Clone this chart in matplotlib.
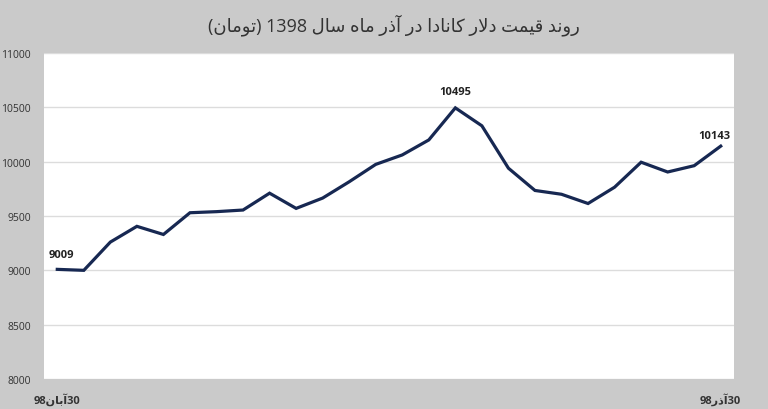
import re
import matplotlib
matplotlib.use("Agg")
import matplotlib.pyplot as plt

# ---------------- data ----------------
title_text = "روند قیمت دلار کانادا در آذر ماه سال 1398 (تومان)"
prices = [9009, 9000, 9260, 9405, 9330, 9530, 9540, 9555, 9710, 9570,
          9665, 9815, 9975, 10062, 10200, 10495, 10330, 9940, 9735, 9700,
          9615, 9765, 9995, 9905, 9963, 10143]
first_label = "30آبان98"
last_label = "30آذر98"
y_ticks = [8000, 8500, 9000, 9500, 10000, 10500, 11000]
annotated_idx = [0, 15, 25]

# ---------------- simple Arabic/Persian shaping for matplotlib ----------------
FORMS = {  # isolated, final, initial, medial
    'ا': ('\uFE8D', '\uFE8E', None, None),
    'آ': ('\uFE81', '\uFE82', None, None),
    'ب': ('\uFE8F', '\uFE90', '\uFE91', '\uFE92'),
    'ت': ('\uFE95', '\uFE96', '\uFE97', '\uFE98'),
    'د': ('\uFEA9', '\uFEAA', None, None),
    'ذ': ('\uFEAB', '\uFEAC', None, None),
    'ر': ('\uFEAD', '\uFEAE', None, None),
    'س': ('\uFEB1', '\uFEB2', '\uFEB3', '\uFEB4'),
    'ق': ('\uFED5', '\uFED6', '\uFED7', '\uFED8'),
    'ل': ('\uFEDD', '\uFEDE', '\uFEDF', '\uFEE0'),
    'م': ('\uFEE1', '\uFEE2', '\uFEE3', '\uFEE4'),
    'ن': ('\uFEE5', '\uFEE6', '\uFEE7', '\uFEE8'),
    'ه': ('\uFEE9', '\uFEEA', '\uFEEB', '\uFEEC'),
    'و': ('\uFEED', '\uFEEE', None, None),
    'ک': ('\uFB8E', '\uFB8F', '\uFB90', '\uFB91'),
    'ی': ('\uFBFC', '\uFBFD', '\uFBFE', '\uFBFF'),
}
LAM_ALEF = {'ا': ('\uFEFB', '\uFEFC'), 'آ': ('\uFEF5', '\uFEF6')}


def dual(c):
    return c in FORMS and FORMS[c][2] is not None


def shape(word):
    out = []
    i = 0
    n = len(word)
    while i < n:
        c = word[i]
        if c not in FORMS:
            out.append(c)
            i += 1
            continue
        prev_j = i > 0 and dual(word[i - 1])
        if c == 'ل' and i + 1 < n and word[i + 1] in LAM_ALEF:
            out.append(LAM_ALEF[word[i + 1]][1 if prev_j else 0])
            i += 2
            continue
        next_j = dual(c) and i + 1 < n and word[i + 1] in FORMS
        iso, fin, ini, med = FORMS[c]
        if prev_j and next_j:
            out.append(med)
        elif prev_j:
            out.append(fin)
        elif next_j:
            out.append(ini)
        else:
            out.append(iso)
        i += 1
    return ''.join(out)


def mirror(s):
    return s.translate(str.maketrans('()', ')('))


def rtl(text):
    words = []
    for tok in text.split(' ')[::-1]:
        runs = re.findall(r'[0-9]+|[^0-9]+', tok)
        vis = ''
        for r in runs[::-1]:
            vis += r if r.isdigit() else mirror(shape(r)[::-1])
        words.append(vis)
    return ' '.join(words)


# ---------------- plot ----------------
plt.rcParams['font.family'] = ['Open Sans', 'DejaVu Sans']
BG = '#cacaca'
LINE = '#172852'
TXT = '#333333'

fig = plt.figure(figsize=(7.68, 4.10), dpi=100, facecolor=BG)
ax = fig.add_axes([44 / 768, 1 - 380 / 410, 690 / 768, 326 / 410])
ax.set_facecolor('white')

x = list(range(len(prices)))
ax.plot(x, prices, color=LINE, lw=2.3, solid_joinstyle='miter', zorder=3)

ax.set_xlim(-0.5, len(prices) - 0.5)
ax.set_ylim(8000, 11000)
ax.set_yticks(y_ticks)
ax.set_yticklabels([str(v) for v in y_ticks], fontsize=7.5, color=TXT)
ax.grid(axis='y', color='#dcdcdc', lw=1)
ax.set_axisbelow(True)
for s in ax.spines.values():
    s.set_visible(False)
ax.tick_params(axis='y', length=0, pad=9.5)
for lab in ax.get_yticklabels():
    lab.set_horizontalalignment('right')
    lab.set_verticalalignment('center_baseline')

ax.set_xticks([0, len(prices) - 1])
ax.set_xticklabels([rtl(first_label), rtl(last_label)], fontsize=8,
                   fontweight='bold', color=TXT)
ax.tick_params(axis='x', length=0, pad=10)

offsets = {0: (3, 11), 15: (0, 11.5), 25: (-4.5, 8)}
for i in annotated_idx:
    ax.annotate(str(prices[i]), (x[i], prices[i]), xytext=offsets[i],
                textcoords='offset points', ha='center', va='center',
                fontsize=8, fontweight='bold', color='#222222')

fig.text(394 / 768, 1 - 25 / 410, rtl(title_text), ha='center', va='center',
         fontsize=13, color=TXT)

fig.savefig('out.png', dpi=100, facecolor=BG)
